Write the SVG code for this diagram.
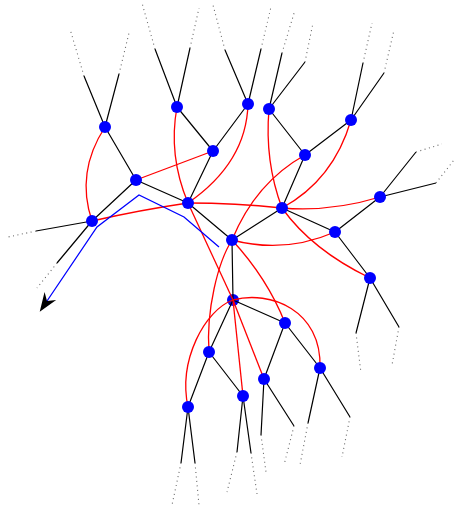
<svg xmlns="http://www.w3.org/2000/svg" width="456" height="510" viewBox="0 0 456 510">
<style>
.t{stroke:#000;stroke-width:1.2;fill:none}
.d{stroke:#666;stroke-width:1.1;stroke-dasharray:1 3.5;fill:none}
.r{stroke:#ff0000;stroke-width:1.3;fill:none}
.b{stroke:#0000ff;stroke-width:1.3;fill:none}
.n{fill:#0000ff}
</style>
<defs>
<marker id="arr" markerUnits="userSpaceOnUse" markerWidth="22" markerHeight="18" refX="6" refY="0" viewBox="-1 -9 22 18" orient="auto">
<path d="M19,0 L0,-7 L6,0 L0,7 Z" fill="#000"/>
</marker>
</defs>
<rect width="456" height="510" fill="#fff"/>
<g id="node-P"><circle class="n" cx="233" cy="300" r="6"/></g>
<g id="connectors">
<g id="tree">
<path class="t" d="M105,127 L136,180 M136,180 L188,203 M136,180 L92,221 M177,107 L213,151 M248,104 L213,151 M213,151 L188,203 M188,203 L232,240 M269,109 L305,155 M351,120 L305,155 M305,155 L282,208 M282,208 L232,240 M282,208 L335,232 M380,197 L335,232 M335,232 L370,278 M232,240 L233,300 M233,300 L285,323 M233,300 L209,352 M285,323 L320,368 M285,323 L264,379 M209,352 L188,407 M209,352 L243,396"/>
</g>
<g id="leaves">
<path class="t" d="M105,127 L84,76 M105,127 L119,74 M177,107 L155,49 M177,107 L190,48 M248,104 L225,50 M248,104 L261,49 M269,109 L282,53 M269,109 L305,62 M351,120 L363,63 M351,120 L384,73 M380,197 L416,152 M380,197 L436,183 M92,221 L36,231 M92,221 L57,263 M370,278 L356,333 M370,278 L399,327 M320,368 L308,423 M320,368 L350,417 M264,379 L261,435 M264,379 L294,426 M243,396 L237,452 M243,396 L251,453 M188,407 L181,463 M188,407 L195,463"/>
<path class="d" d="M84,76 L70,29 M119,74 L129,33 M155,49 L142,3 M190,48 L199,8 M225,50 L213,5 M261,49 L271,7 M282,53 L295,10 M305,62 L313,23 M363,63 L372,23 M384,73 L394,30 M416,152 L442,144 M436,183 L454,160 M36,231 L8,237 M57,263 L37,288 M356,333 L361,373 M399,327 L392,365 M308,423 L300,465 M350,417 L342,457 M261,435 L266,472 M294,426 L284,465 M237,452 L227,492 M251,453 L257,494 M181,463 L172,505 M195,463 L199,505"/>
</g>
<g id="red">
<path class="r" d="M105,127 Q75.5,172.5 92,221"/>
<path class="r" d="M136,180 L213,151"/>
<path class="r" d="M92,221 Q140,210 188,203"/>
<path class="r" d="M177,107 Q168,155.5 188,203"/>
<path class="r" d="M248,104 Q246.5,162.5 188,203"/>
<path class="r" d="M188,203 Q235,203 282,208"/>
<path class="r" d="M269,109 Q264.5,161.5 282,208"/>
<path class="r" d="M351,120 Q333.5,180 282,208"/>
<path class="r" d="M282,208 Q331,212 380,197"/>
<path class="r" d="M232,240 Q255.5,182.5 305,155"/>
<path class="r" d="M232,240 Q284.5,254 335,232"/>
<path class="r" d="M282,208 Q312,250 370,278"/>
<path class="r" d="M188,203 L233,300"/>
<path class="r" d="M232,240 C218,262 206,310 209,352"/>
<path class="r" d="M232,240 Q267.5,278.5 285,323"/>
<path class="r" d="M233,300 L243,396"/>
<path class="r" d="M233,300 L264,379"/>
<path class="r" d="M233,300 C270,290 322,310 320,368"/>
<path class="r" d="M233,300 C205,310 178,360 188,407"/>
</g>
<g id="route">
<path class="b" d="M219,247 L184,217 L139,195 L97,227 L47,301" marker-end="url(#arr)"/>
</g>
</g>
<g id="node-A"><circle class="n" cx="105" cy="127" r="6"/></g>
<g id="node-B"><circle class="n" cx="177" cy="107" r="6"/></g>
<g id="node-C"><circle class="n" cx="248" cy="104" r="6"/></g>
<g id="node-D"><circle class="n" cx="269" cy="109" r="6"/></g>
<g id="node-E"><circle class="n" cx="351" cy="120" r="6"/></g>
<g id="node-F"><circle class="n" cx="213" cy="151" r="6"/></g>
<g id="node-G"><circle class="n" cx="305" cy="155" r="6"/></g>
<g id="node-H"><circle class="n" cx="136" cy="180" r="6"/></g>
<g id="node-I"><circle class="n" cx="380" cy="197" r="6"/></g>
<g id="node-J"><circle class="n" cx="188" cy="203" r="6"/></g>
<g id="node-K"><circle class="n" cx="282" cy="208" r="6"/></g>
<g id="node-L"><circle class="n" cx="92" cy="221" r="6"/></g>
<g id="node-M"><circle class="n" cx="335" cy="232" r="6"/></g>
<g id="node-N"><circle class="n" cx="232" cy="240" r="6"/></g>
<g id="node-O"><circle class="n" cx="370" cy="278" r="6"/></g>
<g id="node-Q"><circle class="n" cx="285" cy="323" r="6"/></g>
<g id="node-R"><circle class="n" cx="209" cy="352" r="6"/></g>
<g id="node-S"><circle class="n" cx="320" cy="368" r="6"/></g>
<g id="node-T"><circle class="n" cx="264" cy="379" r="6"/></g>
<g id="node-U"><circle class="n" cx="243" cy="396" r="6"/></g>
<g id="node-V"><circle class="n" cx="188" cy="407" r="6"/></g>
</svg>
